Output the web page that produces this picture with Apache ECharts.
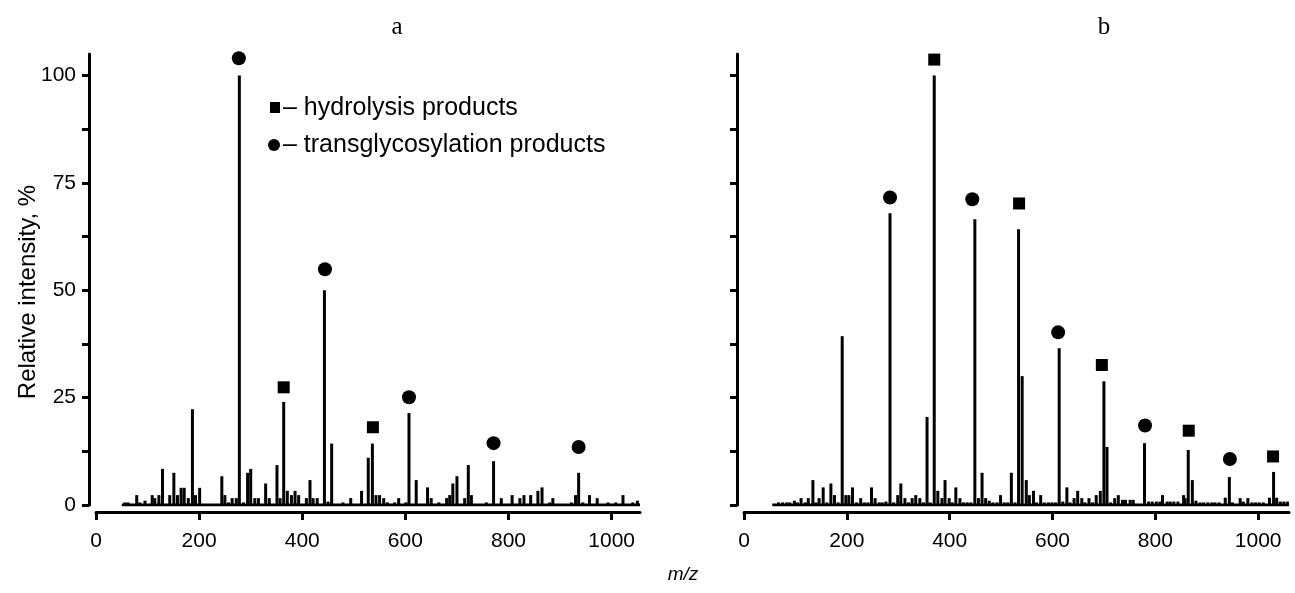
<!DOCTYPE html>
<html><head><meta charset="utf-8">
<script src="https://cdn.jsdelivr.net/npm/echarts@6/dist/echarts.min.js"></script>
<style>html,body{margin:0;padding:0;background:#fff}#c{width:1295px;height:593px}</style>
</head><body><div id="c"></div>
<script>
// ---- data ----
const yTicks = [0, 12.5, 25, 37.5, 50, 62.5, 75, 87.5, 100];
const yLabels = [0, 25, 50, 75, 100];
const xLabels = [0, 200, 400, 600, 800, 1000];

const leftMz  = [56,62,79,85,95,109,114,122,129,143,151,158,165,171,179,187,193,201,244,250,257,264,272,278,286,294,300,308,315,329,336,351,357,364,371,379,386,393,408,415,421,429,443,450,457,479,494,515,528,536,543,550,558,565,579,587,601,607,621,643,650,665,680,686,692,700,715,722,728,757,771,786,807,822,830,843,857,865,880,886,922,930,936,944,957,972,993,1008,1022,1041,1050];
const leftInt = [0.6,0.6,2.3,0.6,1.0,2.3,1.6,2.3,8.4,2.3,7.5,2.3,4.0,4.0,1.6,22.3,2.3,4.0,6.7,2.3,0.6,1.6,1.6,100,0.6,7.5,8.4,1.6,1.6,5.0,1.6,9.3,1.6,24,3.3,2.3,3.3,2.3,1.6,5.8,1.6,1.6,50,0.8,14.3,0.6,1.6,3.3,11,14.3,2.3,2.3,1.6,0.6,0.6,1.6,0.6,21.4,5.8,4.1,1.6,0.6,1.6,2.3,5.0,6.7,1.6,9.3,2.3,0.6,10.2,1.6,2.3,1.6,2.3,2.3,3.3,4.1,0.6,1.6,0.6,2.3,7.5,0.6,2.3,1.6,0.6,0.6,2.3,0.6,1.0];

const rightMz  = [67,75,83,89,98,104,111,119,125,134,140,146,154,161,169,176,183,191,198,204,211,219,227,234,241,248,255,263,269,276,284,291,299,305,313,320,327,334,342,349,356,362,370,377,385,391,399,405,412,420,427,434,441,449,456,463,470,477,484,492,499,506,513,520,527,534,541,549,555,563,569,577,584,592,599,606,613,620,628,634,642,649,657,663,671,678,685,693,700,706,713,721,728,736,742,751,757,779,787,794,802,809,814,823,829,836,844,855,858,864,872,879,887,894,902,910,916,924,936,944,950,965,971,980,988,995,1002,1010,1022,1030,1036,1043,1050,1057];
const rightInt = [0.6,0.6,0.6,0.6,1.0,0.6,1.6,0.6,1.6,5.8,0.6,1.6,4.1,0.6,5.0,2.3,0.6,39.3,2.3,2.3,4.1,0.6,1.6,0.6,0.6,4.1,1.6,0.6,0.6,0.8,67.9,0.6,2.3,5.0,1.6,0.6,1.6,2.3,1.6,0.6,20.5,0.6,100,3.3,1.6,5.8,1.6,0.6,4.1,1.6,0.6,0.6,0.6,66.5,1.6,7.5,1.6,1.0,0.6,0.6,2.3,0.6,0.6,7.5,0.6,64.2,30,5.8,2.3,3.3,0.6,2.3,0.6,0.6,0.6,0.6,36.5,0.8,4.1,0.6,1.6,3.3,1.6,0.6,1.6,0.6,2.3,3.3,28.8,13.5,0.6,1.6,2.3,1.2,1.2,1.2,1.2,14.4,0.8,0.8,0.8,0.8,2.3,0.8,0.8,0.8,0.8,2.3,1.6,12.8,5.8,1.0,0.6,0.6,0.6,0.6,0.6,0.6,1.7,6.5,0.6,1.6,0.8,1.6,0.6,0.6,0.6,0.6,1.7,7.7,1.7,0.8,0.8,0.8];

const leftSquareMz = [364, 537];
const leftSquareY  = [27.4, 18.1];
const leftCircleMz = [277, 444, 607, 771, 936];
const leftCircleY  = [104, 54.9, 25.1, 14.4, 13.5];

const rightSquareMz = [370, 535, 696, 865, 1029];
const rightSquareY  = [103.7, 70.2, 32.6, 17.3, 11.3];
const rightCircleMz = [284, 444, 611, 780, 945];
const rightCircleY  = [71.6, 71.2, 40.2, 18.5, 10.7];

const leftBase = [50, 1055];
const rightBase = [55, 1060];

// ---- chart ----
const zip = (a, b) => a.map((v, i) => [v, b[i]]);
const FONT = '"Liberation Sans", Arial, sans-serif';
const BLACK = '#000';

function yAx(gi) {
  return {
    type: 'value', gridIndex: gi, min: 0, max: 105, offset: 7,
    axisLine: { show: true, onZero: false, lineStyle: { color: BLACK, width: 3 } },
    axisTick: { show: true, length: 7, lineStyle: { color: BLACK, width: 3 }, customValues: yTicks },
    axisLabel: { show: gi === 0, color: BLACK, fontFamily: FONT, fontSize: 21, margin: 13, customValues: yLabels,
      formatter: v => String(v) },
    splitLine: { show: false }
  };
}
function xAx(gi, max) {
  return {
    type: 'value', gridIndex: gi, min: 0, max: max, offset: 7,
    axisLine: { show: true, onZero: false, lineStyle: { color: BLACK, width: 3 } },
    axisTick: { show: true, length: 8, lineStyle: { color: BLACK, width: 3 }, customValues: xLabels },
    axisLabel: { color: BLACK, fontFamily: FONT, fontSize: 21, margin: 19, customValues: xLabels,
      formatter: v => String(v) },
    splitLine: { show: false }
  };
}
function series(gi, mz, it, base, sqMz, sqY, ciMz, ciY) {
  return [
    { type: 'line', xAxisIndex: gi, yAxisIndex: gi, data: base.map(v => [v, 0]), symbol: 'none',
      lineStyle: { color: BLACK, width: 3 }, silent: true, z: 3 },
    { type: 'bar', xAxisIndex: gi, yAxisIndex: gi, data: zip(mz, it), barWidth: 3,
      itemStyle: { color: BLACK }, silent: true, z: 2 },
    { type: 'scatter', xAxisIndex: gi, yAxisIndex: gi, data: zip(sqMz, sqY), symbol: 'rect', symbolSize: 12,
      itemStyle: { color: BLACK, opacity: 1 }, silent: true },
    { type: 'scatter', xAxisIndex: gi, yAxisIndex: gi, data: zip(ciMz, ciY), symbol: 'circle', symbolSize: 14,
      itemStyle: { color: BLACK, opacity: 1 }, silent: true }
  ];
}

const chart = echarts.init(document.getElementById('c'), null, { renderer: 'canvas' });
chart.setOption({
  animation: false,
  backgroundColor: '#fff',
  grid: [
    { left: 96, top: 54, width: 544, height: 451 },
    { left: 744, top: 54, width: 545, height: 451 }
  ],
  xAxis: [xAx(0, 1055), xAx(1, 1060)],
  yAxis: [yAx(0), yAx(1)],
  series: [
    ...series(0, leftMz, leftInt, leftBase, leftSquareMz, leftSquareY, leftCircleMz, leftCircleY),
    ...series(1, rightMz, rightInt, rightBase, rightSquareMz, rightSquareY, rightCircleMz, rightCircleY)
  ],
  graphic: [
    { type: 'text', x: 397, y: 27, style: { text: 'a', font: '25px "Liberation Serif", serif', fill: BLACK, align: 'center', verticalAlign: 'middle' } },
    { type: 'text', x: 1104, y: 27, style: { text: 'b', font: '25px "Liberation Serif", serif', fill: BLACK, align: 'center', verticalAlign: 'middle' } },
    { type: 'text', x: 683, y: 575, style: { text: 'm/z', font: 'italic 19px ' + FONT, fill: BLACK, align: 'center', verticalAlign: 'middle' } },
    { type: 'text', x: 28, y: 292, rotation: Math.PI / 2, style: { text: 'Relative intensity, %', font: '24px ' + FONT, fill: BLACK, align: 'center', verticalAlign: 'middle' } },
    { type: 'rect', shape: { x: 270, y: 102, width: 10, height: 11 }, style: { fill: BLACK } },
    { type: 'text', x: 283, y: 108, style: { text: '– hydrolysis products', font: '25px ' + FONT, fill: BLACK, verticalAlign: 'middle' } },
    { type: 'circle', shape: { cx: 274, cy: 145, r: 6 }, style: { fill: BLACK } },
    { type: 'text', x: 283, y: 145, style: { text: '– transglycosylation products', font: '25px ' + FONT, fill: BLACK, verticalAlign: 'middle' } }
  ]
});
</script></body></html>
